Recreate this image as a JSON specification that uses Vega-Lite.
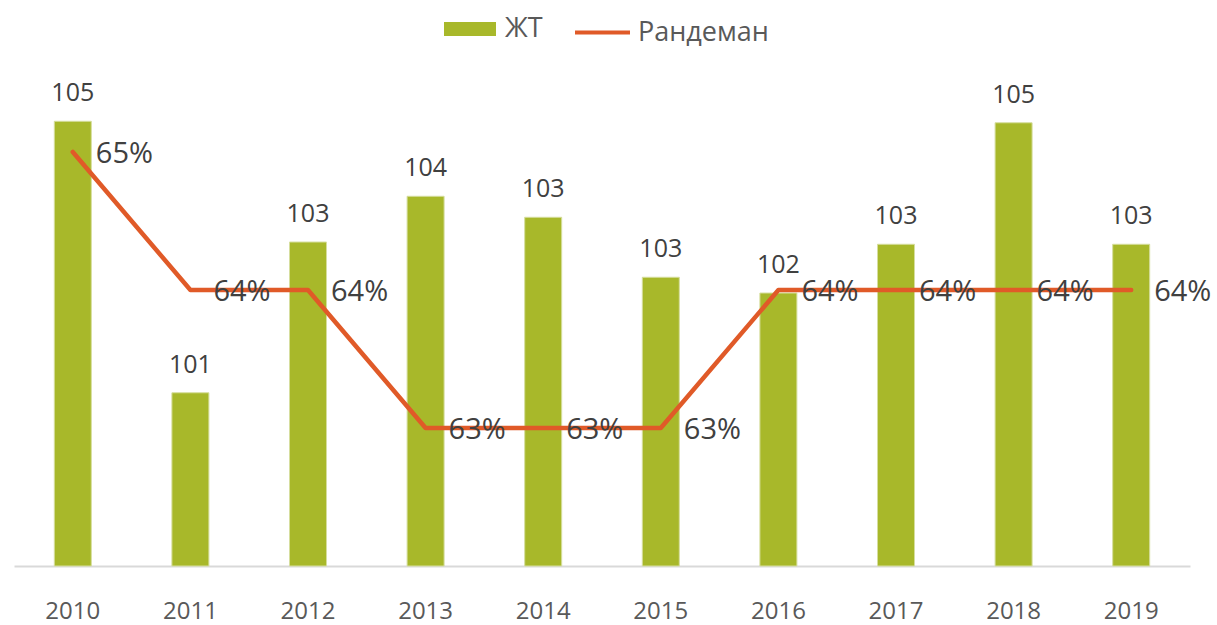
{
  "$schema": "https://vega.github.io/schema/vega-lite/v6.json",
  "width": 1176,
  "height": 506,
  "autosize": {"type": "none"},
  "padding": {"left": 14, "top": 60, "right": 27, "bottom": 59},
  "config": {"view": {"stroke": null}, "font": "Open Sans"},
  "data": {
    "values": [
      {"year": "2010", "zht": 104.63, "rand": 0.65},
      {"year": "2011", "zht": 101.01, "rand": 0.64},
      {"year": "2012", "zht": 103.02, "rand": 0.64},
      {"year": "2013", "zht": 103.63, "rand": 0.63},
      {"year": "2014", "zht": 103.35, "rand": 0.63},
      {"year": "2015", "zht": 102.55, "rand": 0.63},
      {"year": "2016", "zht": 102.34, "rand": 0.64},
      {"year": "2017", "zht": 102.99, "rand": 0.64},
      {"year": "2018", "zht": 104.61, "rand": 0.64},
      {"year": "2019", "zht": 102.99, "rand": 0.64}
    ]
  },
  "encoding": {
    "x": {
      "field": "year",
      "type": "nominal",
      "scale": {"paddingInner": 0, "paddingOuter": 0},
      "axis": {
        "title": null,
        "labelAngle": 0,
        "ticks": false,
        "domainColor": "#D9D9D9",
        "domainWidth": 2,
        "labelFontSize": 24,
        "labelColor": "#595959",
        "labelBaseline": "alphabetic",
        "labelPadding": 52
      }
    }
  },
  "layer": [
    {
      "mark": {"type": "bar", "size": 37, "stroke": "#D6DE9E", "strokeWidth": 1},
      "encoding": {
        "y": {"field": "zht", "type": "quantitative", "scale": {"domain": [98.7, 105.447], "zero": false, "nice": false}, "axis": null},
        "y2": {"datum": 98.7},
        "fill": {
          "datum": "ЖТ",
          "type": "nominal",
          "scale": {"range": ["#A8B82A"]},
          "legend": {
            "orient": "none", "legendX": 430, "legendY": -57, "title": null, "padding": 0,
            "symbolType": "M-1,-0.27H1V0.27H-1Z", "symbolSize": 2704, "symbolStrokeWidth": 0,
            "labelFontSize": 27, "labelColor": "#595959", "labelOffset": 9
          }
        }
      }
    },
    {
      "mark": {"type": "line", "strokeWidth": 4.5, "strokeJoin": "round", "strokeCap": "round"},
      "encoding": {
        "y": {"field": "rand", "type": "quantitative", "scale": {"domain": [0.62, 0.656667], "zero": false, "nice": false}, "axis": null},
        "stroke": {
          "datum": "Рандеман",
          "type": "nominal",
          "scale": {"range": ["#E05A28"]},
          "legend": {
            "orient": "none", "legendX": 559, "legendY": -57, "title": null, "padding": 0,
            "symbolType": "stroke", "symbolSize": 3025, "symbolStrokeWidth": 4,
            "labelFontSize": 27, "labelColor": "#595959", "labelOffset": 6
          }
        }
      }
    },
    {
      "mark": {"type": "text", "dy": -20, "baseline": "alphabetic", "fontSize": 25, "fill": "#404040"},
      "encoding": {
        "y": {"field": "zht", "type": "quantitative", "scale": {"domain": [98.7, 105.447], "zero": false, "nice": false}, "axis": null},
        "text": {"field": "zht", "type": "quantitative", "format": ".0f"}
      }
    },
    {
      "mark": {"type": "text", "align": "left", "dx": 23, "dy": 2, "baseline": "middle", "fontSize": 29, "fill": "#404040"},
      "encoding": {
        "y": {"field": "rand", "type": "quantitative", "scale": {"domain": [0.62, 0.656667], "zero": false, "nice": false}, "axis": null},
        "text": {"field": "rand", "type": "quantitative", "format": ".0%"}
      }
    }
  ],
  "resolve": {"scale": {"y": "independent"}}
}
